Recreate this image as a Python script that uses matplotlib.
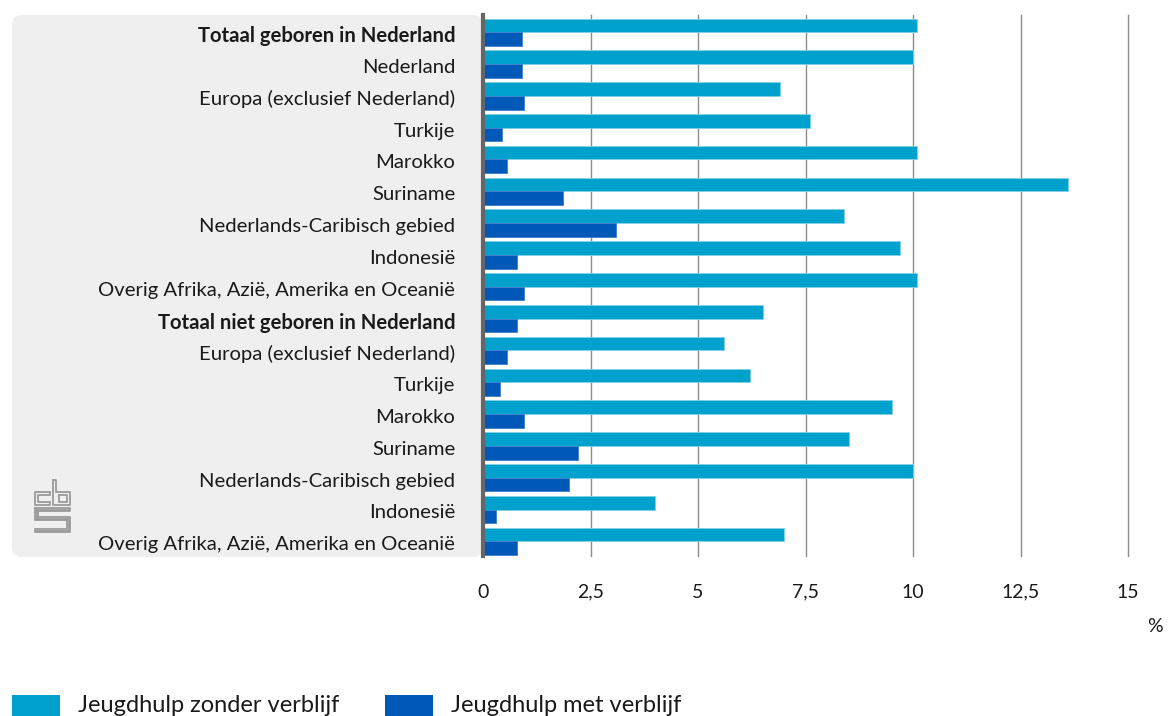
import matplotlib
matplotlib.use("Agg")
import matplotlib.pyplot as plt
from matplotlib.patches import FancyBboxPatch, Rectangle
import numpy as np

plt.rcParams['font.family'] = ['Lato', 'DejaVu Sans']

# data (percentages)
categories = [
    'Totaal geboren in Nederland', 'Nederland', 'Europa (exclusief Nederland)',
    'Turkije', 'Marokko', 'Suriname', 'Nederlands-Caribisch gebied', 'Indonesië',
    'Overig Afrika, Azië, Amerika en Oceanië',
    'Totaal niet geboren in Nederland', 'Europa (exclusief Nederland)',
    'Turkije', 'Marokko', 'Suriname', 'Nederlands-Caribisch gebied', 'Indonesië',
    'Overig Afrika, Azië, Amerika en Oceanië',
]
bold_rows = [0, 9]
zonder_verblijf = [10.1, 10.0, 6.9, 7.6, 10.1, 13.6, 8.4, 9.7, 10.1,
                   6.5, 5.6, 6.2, 9.5, 8.5, 10.0, 4.0, 7.0]
met_verblijf = [0.9, 0.9, 0.95, 0.45, 0.55, 1.85, 3.1, 0.8, 0.95,
                0.8, 0.55, 0.4, 0.95, 2.2, 2.0, 0.3, 0.8]
xticks = [0, 2.5, 5, 7.5, 10, 12.5, 15]
xticklabels = ['0', '2,5', '5', '7,5', '10', '12,5', '15']
series_names = ['Jeugdhulp zonder verblijf', 'Jeugdhulp met verblijf']

light = '#00a1cd'
dark = '#0058b8'

W, H = 1169, 716
fig = plt.figure(figsize=(W / 100, H / 100), dpi=100)

# grijs paneel achter de labels
panel = FancyBboxPatch((0.12, (H - 557) / 100), 4.71, 5.42,
                       boxstyle='round,pad=0,rounding_size=0.1',
                       transform=fig.dpi_scale_trans, facecolor='#efefef',
                       edgecolor='none', zorder=-5)
fig.patches.append(panel)

ax = fig.add_axes([483 / W, 1 - 556 / H, (1128 - 483) / W, (556 - 15) / H])
ax.set_facecolor('none')

y = np.arange(len(categories))
h = 0.43
ax.barh(y - h / 2 + 0.04, zonder_verblijf, height=h, color=light, zorder=3,
        edgecolor='#7fd0e6', linewidth=0.6, label=series_names[0])
ax.barh(y + h / 2 + 0.04, met_verblijf, height=h, color=dark, zorder=3,
        edgecolor='#3d7fcc', linewidth=0.6, label=series_names[1])

ax.set_ylim(len(categories) - 0.5, -0.5)
ax.set_xlim(0, 15)
ax.set_yticks(y + 0.1)
ax.set_yticklabels(categories)
for i, lab in enumerate(ax.get_yticklabels()):
    if i in bold_rows:
        lab.set_fontweight('bold')
ax.set_xticks(xticks)
ax.set_xticklabels(xticklabels)
ax.tick_params(axis='y', length=0, pad=20, labelsize=14.6, labelcolor='#1a1a1a')
ax.tick_params(axis='x', length=0, pad=20, labelsize=14, labelcolor='#1a1a1a')

ax.grid(axis='x', color='#8c8c8c', linewidth=1, zorder=1)
ax.grid(axis='y', visible=False)
for gl in ax.get_xgridlines():
    gl.set_clip_on(False)
for s in ['top', 'right', 'bottom']:
    ax.spines[s].set_visible(False)
ax.spines['left'].set_color('#666666')
ax.spines['left'].set_linewidth(3)
ax.spines['left'].set_zorder(4)

fig.text(1155 / W, 1 - 626 / H, '%', fontsize=14, ha='center', va='center',
         color='#1a1a1a')

# legenda
for x0, col, name in [(12, light, series_names[0]), (385, dark, series_names[1])]:
    fig.patches.append(Rectangle((x0 / W, 0), 48 / W, 21 / H, transform=fig.transFigure,
                                 facecolor=col, edgecolor='none'))
    fig.text((x0 + 66) / W, 1 - 705 / H, name, fontsize=17, va='center',
             color='#1a1a1a')

# cbs logo (simpel nagetekend)
def logo_line(pts):
    xs = [(35 + p[0]) / 100 for p in pts]
    ys = [(H - 480 - p[1]) / 100 for p in pts]
    fig.add_artist(plt.Line2D(xs, ys, transform=fig.dpi_scale_trans,
                              color='#9a9a9a', linewidth=1.3))

logo_line([(15, 12), (0, 12), (0, 25), (15, 25), (15, 22), (3, 22), (3, 15), (15, 15), (15, 12)])
logo_line([(18, 0), (21, 0), (21, 12), (35, 12), (35, 25), (18, 25), (18, 0)])
logo_line([(24, 15), (32, 15), (32, 22), (24, 22), (24, 15)])
logo_line([(0, 28), (35, 28), (35, 31), (3, 31), (3, 37), (35, 37), (35, 52),
           (0, 52), (0, 49), (32, 49), (32, 40), (0, 40), (0, 28)])
logo_line([(1.5, 29.5), (33.5, 29.5)])
logo_line([(1.5, 29.5), (1.5, 38.5), (33.5, 38.5), (33.5, 50.5), (1.5, 50.5)])

fig.savefig('out.png', dpi=100)
